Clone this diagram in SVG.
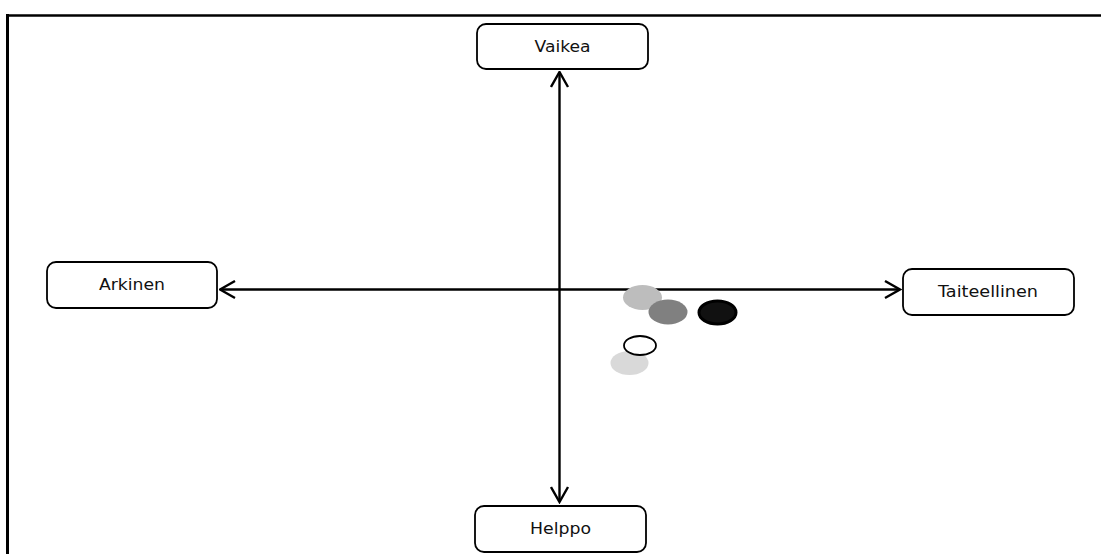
<svg xmlns="http://www.w3.org/2000/svg" width="1101" height="554" viewBox="0 0 1101 554">
  <defs>
    <marker id="arrow" viewBox="0 0 18 20" refX="16.5" refY="10" markerWidth="18" markerHeight="20" markerUnits="userSpaceOnUse" orient="auto-start-reverse">
      <path d="M1.5,1.5 L16.5,10 L1.5,18.5" fill="none" stroke="#000" stroke-width="2.4"/>
    </marker>
  </defs>
  <style>
    .box { fill: #fff; stroke: #000; stroke-width: 1.8; }
    .label { font-family: "DejaVu Sans", "Verdana", sans-serif; font-size: 15px; fill: #111; text-anchor: middle; }
    .axis { stroke: #000; stroke-width: 2.4; fill: none; }
    .frame { stroke: #000; fill: none; }
  </style>
  <rect x="0" y="0" width="1101" height="554" fill="#fff"/>

  <!-- page frame -->
  <line class="frame" x1="6" y1="15.5" x2="1101" y2="15.5" stroke-width="2.5"/>
  <line class="frame" x1="7.5" y1="14" x2="7.5" y2="554" stroke-width="3"/>

  <!-- axes -->
  <g id="connectors">
    <line class="axis" x1="559.5" y1="72" x2="559.5" y2="502" marker-start="url(#arrow)" marker-end="url(#arrow)"/>
    <line class="axis" x1="220" y1="289.5" x2="900" y2="289.5" marker-start="url(#arrow)" marker-end="url(#arrow)"/>
  </g>

  <!-- axis end labels -->
  <g id="vaikea">
    <rect class="box" x="477" y="24" width="171" height="45" rx="9"/>
    <text class="label" x="562.5" y="52" textLength="56" lengthAdjust="spacingAndGlyphs">Vaikea</text>
  </g>
  <g id="arkinen">
    <rect class="box" x="47" y="262" width="170" height="46" rx="9"/>
    <text class="label" x="132" y="290" textLength="66" lengthAdjust="spacingAndGlyphs">Arkinen</text>
  </g>
  <g id="taiteellinen">
    <rect class="box" x="903" y="269" width="171" height="46" rx="9"/>
    <text class="label" x="988" y="297" textLength="100" lengthAdjust="spacingAndGlyphs">Taiteellinen</text>
  </g>
  <g id="helppo">
    <rect class="box" x="475" y="506" width="171" height="46" rx="9"/>
    <text class="label" x="560.5" y="534" textLength="61" lengthAdjust="spacingAndGlyphs">Helppo</text>
  </g>

  <!-- plotted points -->
  <g id="points">
    <ellipse cx="642.5" cy="297.5" rx="19.5" ry="12.5" fill="#bdbdbd"/>
    <ellipse cx="668" cy="312" rx="19.5" ry="12.5" fill="#808080"/>
    <ellipse cx="717.5" cy="312.5" rx="18.5" ry="11.5" fill="#111" stroke="#000" stroke-width="3"/>
    <ellipse cx="629.5" cy="363" rx="19" ry="12" fill="#d9d9d9"/>
    <ellipse cx="640" cy="345.5" rx="16" ry="9.5" fill="#fff" stroke="#000" stroke-width="1.8"/>
  </g>
</svg>
